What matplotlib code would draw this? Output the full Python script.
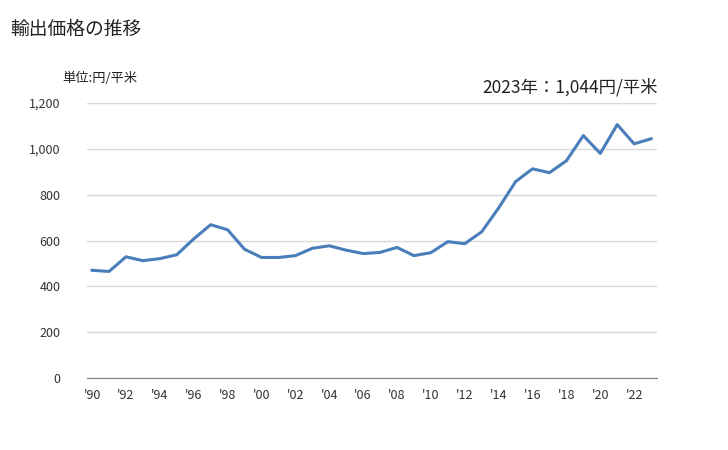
import matplotlib
matplotlib.use("Agg")
import matplotlib.pyplot as plt

plt.rcParams['font.family'] = ['Noto Sans CJK JP', 'DejaVu Sans']

# 輸出価格 (円/平米), 1990-2023
years = list(range(1990, 2024))
prices = [470, 465, 529, 512, 521, 538, 607, 669, 647, 562, 526, 526, 534,
          566, 577, 558, 543, 548, 570, 534, 547, 595, 586, 638, 742, 857,
          913, 896, 948, 1058, 980, 1106, 1022, 1044]
tick_years = list(range(1990, 2023, 2))
tick_labels = ["'%02d" % (y % 100) for y in tick_years]
yticks = [0, 200, 400, 600, 800, 1000, 1200]

fig = plt.figure(figsize=(7.28, 4.5), dpi=100)
ax = fig.add_axes([0.1195, 0.16, 0.783, 0.611])

ax.plot(years, prices, color='#4a7ebb', lw=2.2, solid_joinstyle='round')

ax.set_xlim(1989.7, 2023.35)
ax.set_ylim(0, 1200)
ax.set_yticks(yticks)
ax.set_yticklabels([f'{v:,}' for v in yticks])
ax.set_xticks(tick_years)
ax.set_xticklabels(tick_labels)
ax.grid(axis='y', color='#d9d9d9', lw=1)
ax.set_axisbelow(True)
for s in ('top', 'right', 'left'):
    ax.spines[s].set_visible(False)
ax.spines['bottom'].set_color('#808080')
ax.tick_params(length=0, labelsize=9, colors='#333333')
ax.tick_params(axis='y', pad=19)
ax.tick_params(axis='x', pad=8)

fig.text(0.014, 0.935, '輸出価格の推移', fontsize=13.5, color='#222222', va='center')
fig.text(0.085, 0.826, '単位:円/平米', fontsize=9.5, color='#222222', va='center')
fig.text(0.903, 0.805, '2023年：1,044円/平米', fontsize=12.5, color='#222222',
         va='center', ha='right')

fig.savefig('out.png', dpi=100)
